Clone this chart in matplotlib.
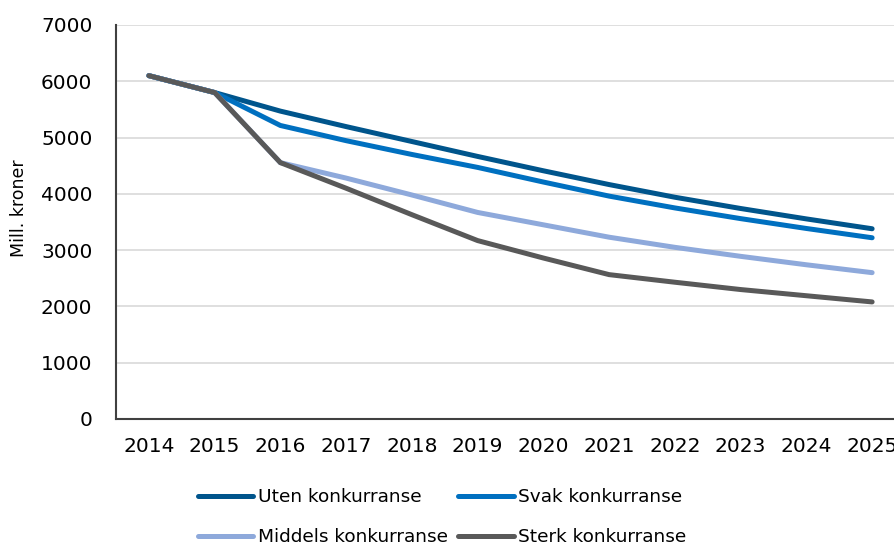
"""Mill. kroner etter konkurransescenario, 2014-2025."""

import matplotlib.pyplot as plt

YEARS = [str(y) for y in range(2014, 2026)]
UTEN = [6100, 5800, 5470, 5195, 4930, 4665, 4410, 4165, 3940, 3740, 3555, 3380]
SVAK = [6100, 5800, 5215, 4945, 4700, 4470, 4210, 3960, 3750, 3560, 3385, 3220]
MIDDELS = [6100, 5800, 4555, 4280, 3980, 3670, 3450, 3230, 3050, 2890, 2740, 2600]
STERK = [6100, 5800, 4555, 4100, 3630, 3170, 2860, 2565, 2430, 2300, 2190, 2080]

SERIES = [
    ("Uten konkurranse", UTEN, "#00558C"),
    ("Svak konkurranse", SVAK, "#0070C0"),
    ("Middels konkurranse", MIDDELS, "#8EA9DB"),
    ("Sterk konkurranse", STERK, "#595959"),
]


def main():
    plt.rcParams["font.family"] = ["DejaVu Sans"]
    fig = plt.figure(figsize=(8.94, 5.47), dpi=100)
    W, H = 894, 547
    ax = fig.add_axes([116 / W, (H - 419) / H, (905 - 116) / W, (419 - 25) / H])

    x = range(len(YEARS))
    lines = {}
    for name, vals, color in SERIES:
        (ln,) = ax.plot(x, vals, color=color, lw=3.6, label=name,
                        solid_capstyle="round", solid_joinstyle="miter")
        lines[name] = ln

    ax.set_xlim(-0.5, len(YEARS) - 0.5)
    ax.set_ylim(0, 7000)
    ax.set_yticks(range(0, 7001, 1000))
    ax.set_xticks(list(x))
    ax.set_xticklabels(YEARS)
    ax.tick_params(axis="both", length=0, labelsize=14.5, colors="black")
    ax.tick_params(axis="x", pad=13)
    ax.tick_params(axis="y", pad=17)
    ax.grid(axis="y", color="#D9D9D9", lw=1.2)
    ax.set_axisbelow(True)
    for side in ("top", "right"):
        ax.spines[side].set_visible(False)
    for side in ("left", "bottom"):
        ax.spines[side].set_color("#404040")
        ax.spines[side].set_linewidth(1.5)
    ax.set_ylabel("Mill. kroner", fontsize=12.5)
    ax.yaxis.set_label_coords(-0.111, 0.535)

    order = ["Uten konkurranse", "Middels konkurranse",
             "Svak konkurranse", "Sterk konkurranse"]
    fig.legend([lines[n] for n in order], order, loc="upper left",
               bbox_to_anchor=(198 / W, 1 - 488 / H), ncol=2, frameon=False,
               fontsize=13.3, handlelength=3.0, handletextpad=0.25,
               columnspacing=0.55, labelspacing=1.2, borderpad=0,
               borderaxespad=0)

    fig.savefig("out.png", dpi=100)


if __name__ == "__main__":
    main()
